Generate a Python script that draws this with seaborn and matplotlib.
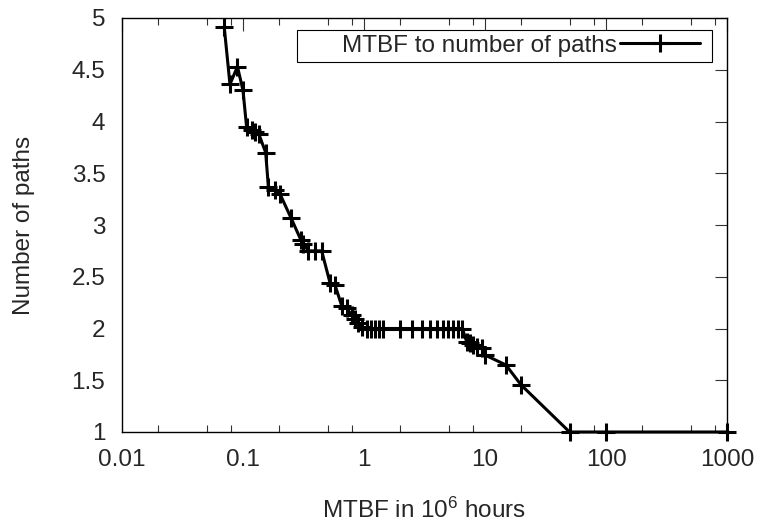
import matplotlib
matplotlib.use("Agg")
import matplotlib.pyplot as plt
import matplotlib.ticker as mticker
from matplotlib.patches import Rectangle
import numpy as np
import pandas as pd
import seaborn as sns

# MTBF (in 10^6 hours) against the number of paths needed
mtbf = [0.070, 0.078, 0.090, 0.100, 0.107, 0.118, 0.125, 0.135, 0.154, 0.162,
        0.184, 0.202, 0.249, 0.301, 0.315, 0.347, 0.394, 0.447, 0.524, 0.576,
        0.654, 0.720, 0.790, 0.843, 0.898, 0.957, 1.05, 1.14, 1.23, 1.34,
        1.44, 1.98, 2.48, 3.00, 3.51, 3.99, 4.47, 4.97, 5.47, 6.01,
        6.50, 7.06, 7.52, 8.00, 8.53, 9.40, 10.0, 14.9, 19.9, 50.0,
        100.0, 1000.0]
paths = [4.91, 4.36, 4.53, 4.30, 3.95, 3.92, 3.90, 3.88, 3.70, 3.37,
         3.34, 3.30, 3.07, 2.855, 2.82, 2.75, 2.75, 2.75, 2.44, 2.42,
         2.22, 2.195, 2.13, 2.09, 2.05, 2.01, 2.00, 2.00, 2.00, 2.00,
         2.00, 2.00, 2.00, 2.00, 2.00, 2.00, 2.00, 2.00, 2.00, 2.00,
         2.00, 1.87, 1.857, 1.84, 1.824, 1.81, 1.744, 1.647, 1.454, 1.00,
         1.00, 1.00]

x_ticks = [0.01, 0.1, 1, 10, 100, 1000]
x_tick_labels = ["0.01", "0.1", "1", "10", "100", "1000"]
y_ticks = [1, 1.5, 2, 2.5, 3, 3.5, 4, 4.5, 5]
y_tick_labels = ["1", "1.5", "2", "2.5", "3", "3.5", "4", "4.5", "5"]

series_label = "MTBF to number of paths"

df = pd.DataFrame({"mtbf": mtbf, "paths": paths})

sns.set_style("white")
plt.rcParams["font.family"] = ["Liberation Sans", "DejaVu Sans"]
plt.rcParams["mathtext.default"] = "regular"
fs = 17.5

W, H = 760, 529
fig = plt.figure(figsize=(W / 100, H / 100), dpi=100)
ax = fig.add_axes([122 / W, 1 - 432 / H, 605 / W, 414 / H])

sns.lineplot(data=df, x="mtbf", y="paths", ax=ax, color="black",
             linewidth=2.2, marker="+", markersize=13, markeredgewidth=2.2,
             markeredgecolor="black", sort=True, estimator=None,
             label=series_label, clip_on=False, zorder=5)

ax.set_xscale("log")
ax.set_xlim(0.01, 1000)
ax.set_ylim(1, 5)

ax.set_xticks(x_ticks)
ax.set_xticklabels(x_tick_labels)
ax.xaxis.set_minor_locator(mticker.LogLocator(base=10, subs=(2, 5, 8), numticks=20))
ax.xaxis.set_minor_formatter(mticker.NullFormatter())
ax.set_yticks(y_ticks)
ax.set_yticklabels(y_tick_labels)

ax.tick_params(axis="both", which="major", direction="in", length=9, width=0.8,
               color="#333333", labelsize=fs, top=True, right=True)
ax.tick_params(axis="x", which="major", pad=12)
ax.tick_params(axis="y", which="major", pad=12)
ax.tick_params(axis="x", which="minor", direction="in", length=4.8, width=0.8,
               color="#333333", top=True, bottom=True)

for sp in ax.spines.values():
    sp.set_color("black")
    sp.set_linewidth(1.0)

ax.set_xlabel(r"MTBF in 10$^{6}$ hours", fontsize=fs)
ax.set_ylabel("Number of paths", fontsize=fs)
ax.xaxis.set_label_coords(0.5, -0.188)
ax.xaxis.label.set_va("center")
ax.yaxis.set_label_coords(-0.162, 0.5)
ax.yaxis.label.set_va("center")

# key: text followed by the line sample, inside a plain rectangular box
leg = ax.legend(loc="center right", bbox_to_anchor=(700 / W, 1 - 46 / H),
                bbox_transform=fig.transFigure, fontsize=fs, markerfirst=False,
                frameon=False, handlelength=3.3, handletextpad=0.12,
                borderpad=0, borderaxespad=0, numpoints=1)
leg.set_zorder(10)
ax.add_patch(Rectangle((297 / W, 1 - 62 / H), (712 - 297) / W, 32 / H,
                       transform=fig.transFigure, fill=True,
                       facecolor="white", edgecolor="black",
                       linewidth=0.8, zorder=4, clip_on=False))

fig.savefig("out.png", dpi=100)
